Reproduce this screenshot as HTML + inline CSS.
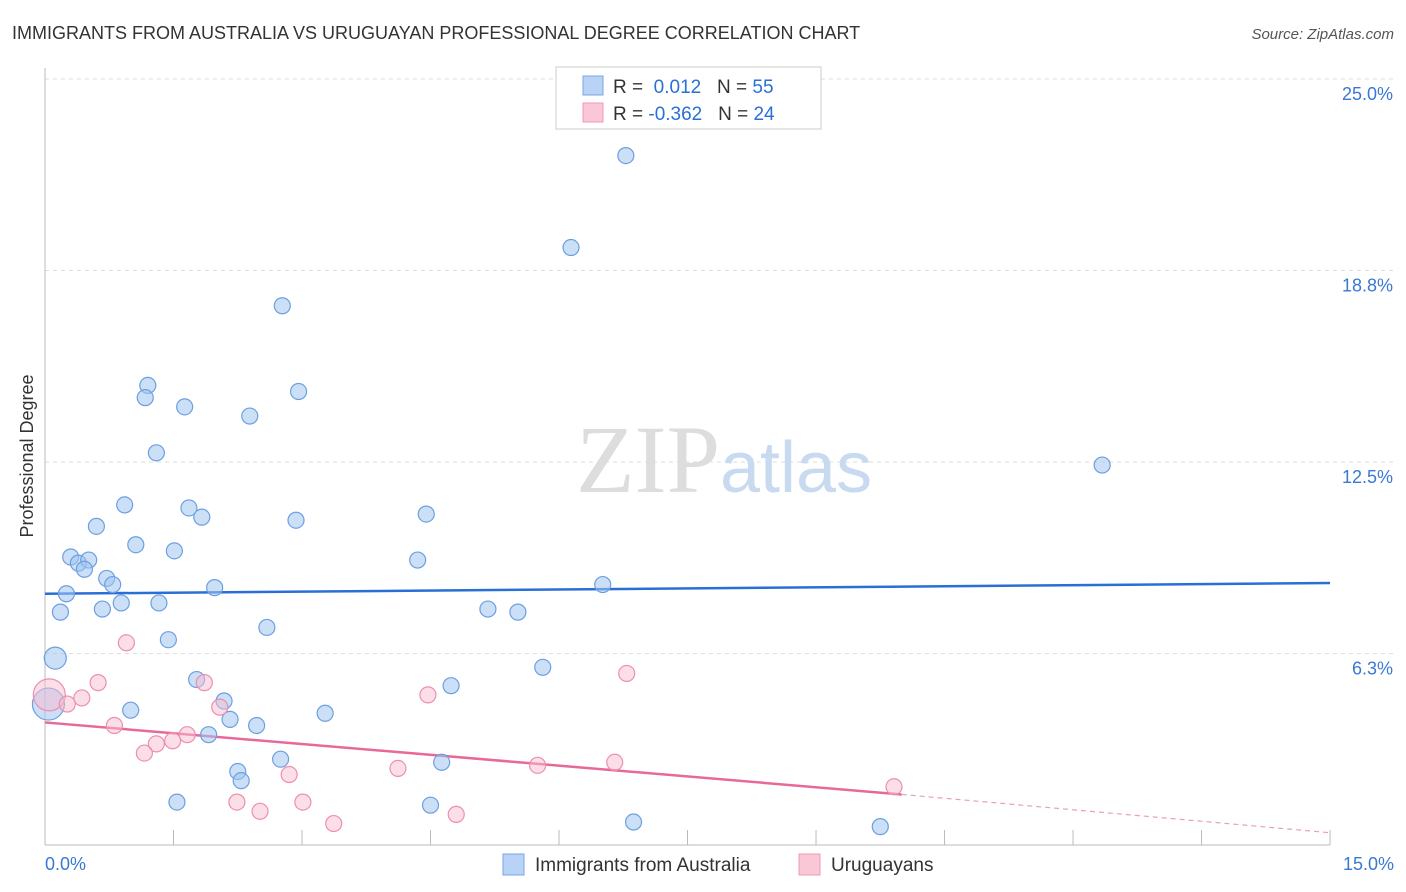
<!DOCTYPE html>
<html><head><meta charset="utf-8"><style>
body{margin:0;background:#fff;font-family:"Liberation Sans",sans-serif;}
svg{display:block}
</style></head><body>
<svg id="chart" width="1406" height="892" xmlns="http://www.w3.org/2000/svg">
<text x="12" y="39" font-size="18" fill="#333">IMMIGRANTS FROM AUSTRALIA VS URUGUAYAN PROFESSIONAL DEGREE CORRELATION CHART</text>
<text x="1394" y="39" font-size="15" fill="#555" font-style="italic" text-anchor="end">Source: ZipAtlas.com</text>
<text x="33" y="456" font-size="18" fill="#333" transform="rotate(-90 33 456)" text-anchor="middle">Professional Degree</text>
<g id="grid"></g><g id="axes"></g>
<text x="720" y="492" font-size="96" font-family="Liberation Serif" fill="#ddd" text-anchor="end">ZIP</text>
<text x="720" y="492" font-size="72" fill="#c8daf0">atlas</text>
<g id="lines"></g><g id="pts"></g>
<g>
<rect x="556" y="67" width="265" height="62" fill="#fff" stroke="#ccc"/>
<rect x="583" y="76" width="20" height="19" fill="#b8d3f5" stroke="#7aa6e0"/>
<rect x="583" y="103" width="20" height="19" fill="#f9c7d6" stroke="#ee9ab4"/>
<text x="613" y="93" font-size="19" fill="#333">R = <tspan fill="#2a6fd6">&#160;0.012</tspan>&#160;&#160;&#160;N = <tspan fill="#2a6fd6">55</tspan></text>
<text x="613" y="120" font-size="19" fill="#333">R = <tspan fill="#2a6fd6">-0.362</tspan>&#160;&#160;&#160;N = <tspan fill="#2a6fd6">24</tspan></text>
</g>
<g>
<rect x="503" y="854" width="21" height="21" fill="#b8d3f5" stroke="#7aa6e0"/>
<text x="535" y="871" font-size="19" fill="#333">Immigrants from Australia</text>
<rect x="799" y="854" width="21" height="21" fill="#f9c7d6" stroke="#ee9ab4"/>
<text x="831" y="871" font-size="19" fill="#333">Uruguayans</text>
</g>
</svg>
<script>
const yTicks=[25,18.75,12.5,6.25];
const yTickLabels=["25.0%","18.8%","12.5%","6.3%"];
const blueX=[6.78,6.14,2.77,1.20,1.17,2.96,1.63,2.39,1.30,12.34,0.93,1.68,1.83,0.60,2.93,4.45,1.06,1.51,0.30,0.39,0.51,0.46,4.35,0.72,0.79,1.98,6.51,0.25,0.67,0.89,1.33,0.18,5.17,5.52,2.59,1.44,0.12,5.81,1.77,4.74,2.09,1.00,3.27,2.16,2.47,1.91,2.75,4.63,2.25,2.29,1.54,4.50,6.87,9.75,0.04];
const blueY=[22.5,19.5,17.6,15.0,14.6,14.8,14.3,14.0,12.8,12.4,11.1,11.0,10.7,10.4,10.6,10.8,9.8,9.6,9.4,9.2,9.3,9.0,9.3,8.7,8.5,8.4,8.5,8.2,7.7,7.9,7.9,7.6,7.7,7.6,7.1,6.7,6.1,5.8,5.4,5.2,4.7,4.4,4.3,4.1,3.9,3.6,2.8,2.7,2.4,2.1,1.4,1.3,0.75,0.6,4.6];
const blueR=[8,8,8,8,8,8,8,8,8,8,8,8,8,8,8,8,8,8,8,8,8,8,8,8,8,8,8,8,8,8,8,8,8,8,8,8,11,8,8,8,8,8,8,8,8,8,8,8,8,8,8,8,8,8,16];
const pinkX=[0.05,0.95,0.62,1.86,0.43,0.26,2.04,0.81,1.66,1.30,1.49,1.16,4.47,6.79,2.85,4.12,5.75,6.65,2.24,3.01,2.51,3.37,4.80,9.91];
const pinkY=[4.9,6.6,5.3,5.3,4.8,4.6,4.5,3.9,3.6,3.3,3.4,3.0,4.9,5.6,2.3,2.5,2.6,2.7,1.4,1.4,1.1,0.7,1.0,1.9];
const pinkR=[16,8,8,8,8,8,8,8,8,8,8,8,8,8,8,8,8,8,8,8,8,8,8,8];
const blueTrend=[8.2,8.55];
const pinkTrend=[4.0,1.65,0.4];
const NS="http://www.w3.org/2000/svg";
const sx=v=>45+v*85.67, sy=v=>845-v*30.64;
function mk(t,a,p){const e=document.createElementNS(NS,t);for(const k in a)e.setAttribute(k,a[k]);p.appendChild(e);return e;}
const grid=document.getElementById('grid'),axes=document.getElementById('axes'),lines=document.getElementById('lines'),pts=document.getElementById('pts');
yTicks.forEach((t,i)=>{
 const l=mk('line',{x1:45,x2:1395,y1:sy(t),y2:sy(t),stroke:'#ddd','stroke-dasharray':'4 4'},grid);
 
 
 const tx=mk('text',{x:1393,y:sy(t)+21,'font-size':18,fill:'#3a78d4','text-anchor':'end'},grid);
 tx.textContent=yTickLabels[i];
 
 
});
mk('line',{x1:45,x2:45,y1:68,y2:845,stroke:'#bbb'},axes);
mk('line',{x1:45,x2:1330,y1:845,y2:845,stroke:'#bbb'},axes);
for(let i=1;i<=10;i++){const t=mk('line',{x1:sx(i*1.5),x2:sx(i*1.5),y1:830,y2:845,stroke:'#bbb'},axes);
 
 }
const x0=mk('text',{x:45,y:870,'font-size':18,fill:'#3a78d4'},axes);x0.textContent='0.0%';


const x1=mk('text',{x:1394,y:870,'font-size':18,fill:'#3a78d4','text-anchor':'end'},axes);x1.textContent='15.0%';


blueX.forEach((x,i)=>{const c=mk('circle',{cx:sx(x),cy:sy(blueY[i]),r:blueR[i],fill:'rgba(160,196,240,0.55)',stroke:'#6d9fe0','stroke-width':1.2},pts);
 
 });
pinkX.forEach((x,i)=>{const c=mk('circle',{cx:sx(x),cy:sy(pinkY[i]),r:pinkR[i],fill:'rgba(248,190,210,0.5)',stroke:'#ec8fae','stroke-width':1.2},pts);
 
 });
const bl=mk('line',{x1:sx(0),x2:sx(15),y1:sy(blueTrend[0]),y2:sy(blueTrend[1]),stroke:'#2a6fd6','stroke-width':2.5},lines);


const pl=mk('line',{x1:sx(0),x2:sx(10),y1:sy(pinkTrend[0]),y2:sy(pinkTrend[1]),stroke:'#e8689a','stroke-width':2.5},lines);


const pd=mk('line',{x1:sx(10),x2:sx(15),y1:sy(pinkTrend[1]),y2:sy(pinkTrend[2]),stroke:'#e8a0ba','stroke-width':1.2,'stroke-dasharray':'5 4'},lines);


</script>
</body></html>
